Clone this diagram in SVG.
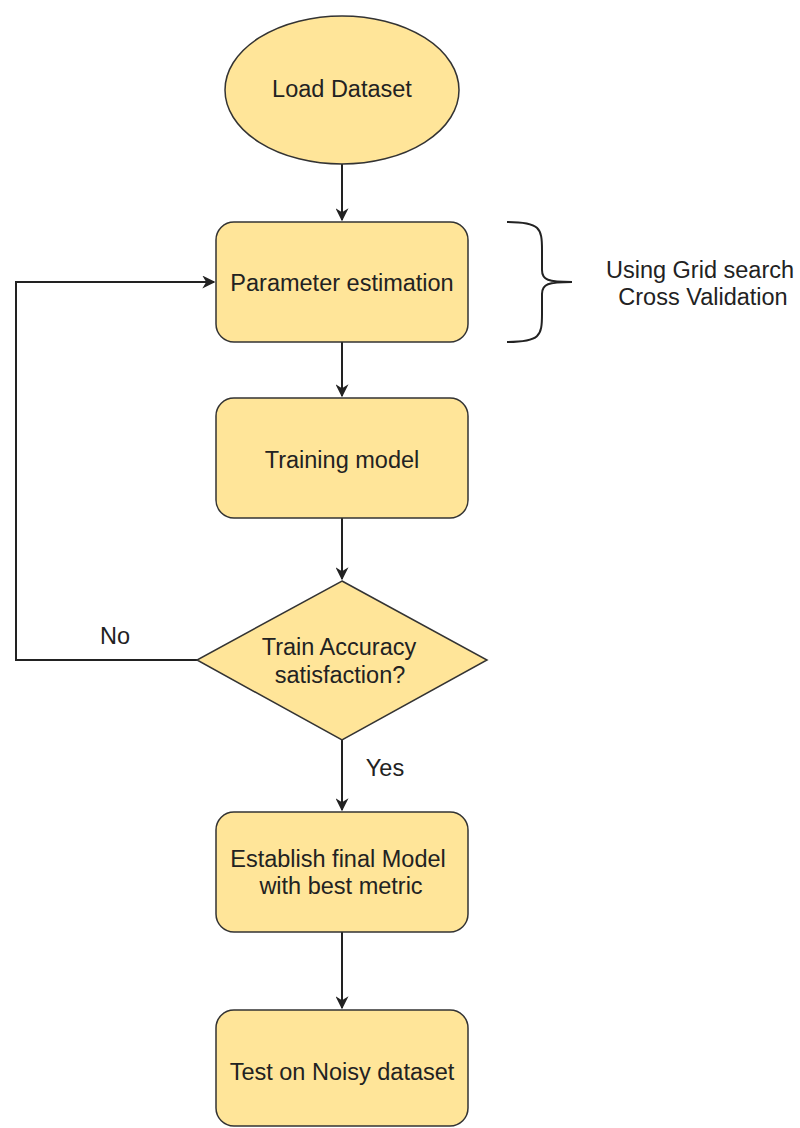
<svg xmlns="http://www.w3.org/2000/svg" width="800" height="1128" viewBox="0 0 800 1128">
  <defs>
    <style>
      .node { fill: #ffe599; stroke: #333333; stroke-width: 1.5; }
      .lbl { font-family: "Liberation Sans", Arial, sans-serif; font-size: 23.5px; fill: #222222; text-anchor: middle; }
      .edge { fill: none; stroke: #222222; stroke-width: 2; }
    </style>
    <marker id="arrow" viewBox="0 0 10 10" refX="9" refY="5" markerWidth="13" markerHeight="13" markerUnits="userSpaceOnUse" orient="auto">
      <path d="M0,0 L10,5 L0,10 L3,5 Z" fill="#222222"/>
    </marker>
  </defs>
  <rect width="800" height="1128" fill="#ffffff"/>

  <g id="connectors">
    <path class="edge" d="M342,164 V220" marker-end="url(#arrow)"/>
    <path class="edge" d="M342,342 V396" marker-end="url(#arrow)"/>
    <path class="edge" d="M342,518 V579" marker-end="url(#arrow)"/>
    <path class="edge" d="M342,740 V810" marker-end="url(#arrow)"/>
    <path class="edge" d="M342,932 V1008" marker-end="url(#arrow)"/>
    <path class="edge" d="M197,660 H16 V282 H214" marker-end="url(#arrow)"/>
    <text class="lbl" x="115" y="644">No</text>
    <text class="lbl" x="385" y="776">Yes</text>
  </g>

  <g id="load-dataset">
    <ellipse class="node" cx="342" cy="90" rx="117" ry="74"/>
    <text class="lbl" x="342" y="97">Load Dataset</text>
  </g>

  <g id="parameter-estimation">
    <rect class="node" x="216" y="222" width="252" height="120" rx="18"/>
    <text class="lbl" x="342" y="291">Parameter estimation</text>
  </g>

  <g id="grid-search-note">
    <path class="edge" stroke-width="1.5" d="M507,222 C540,222 542,228 542,250 V270 C542,280 548,282 572,282 M542,294 V314 C542,336 540,342 507,342 M542,294 C542,284 548,282 572,282"/>
    <text class="lbl" x="700" y="278">Using Grid search</text>
    <text class="lbl" x="703" y="305">Cross Validation</text>
  </g>

  <g id="training-model">
    <rect class="node" x="216" y="398" width="252" height="120" rx="18"/>
    <text class="lbl" x="342" y="468">Training model</text>
  </g>

  <g id="accuracy-check">
    <polygon class="node" points="342,581 487,660 342,740 197,660"/>
    <text class="lbl" x="339" y="655">Train Accuracy</text>
    <text class="lbl" x="340" y="683">satisfaction?</text>
  </g>

  <g id="final-model">
    <rect class="node" x="216" y="812" width="252" height="120" rx="18"/>
    <text class="lbl" x="338" y="867">Establish final Model</text>
    <text class="lbl" x="341" y="894">with best metric</text>
  </g>

  <g id="noisy-test">
    <rect class="node" x="216" y="1010" width="252" height="116" rx="18"/>
    <text class="lbl" x="342" y="1080">Test on Noisy dataset</text>
  </g>
</svg>
